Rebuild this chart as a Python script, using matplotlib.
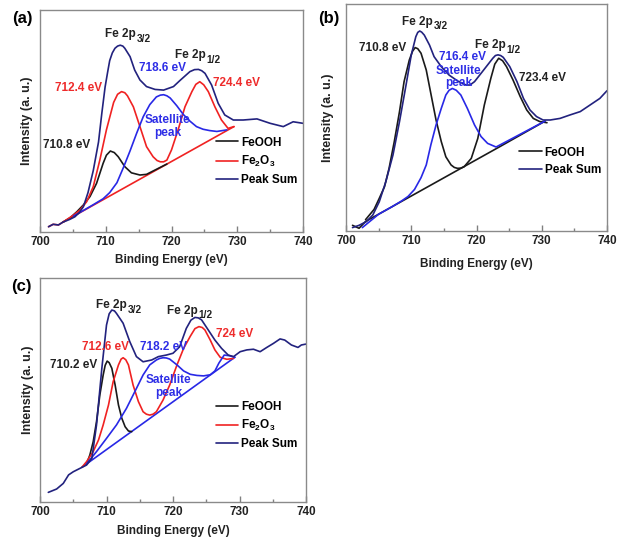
import matplotlib
matplotlib.use("Agg")
import matplotlib.pyplot as plt

plt.rcParams['font.family'] = ['Liberation Sans', 'DejaVu Sans']
plt.rcParams['font.weight'] = 'bold'
plt.rcParams['axes.labelweight'] = 'bold'
plt.rcParams['mathtext.fontset'] = 'custom'
plt.rcParams['mathtext.rm'] = 'Liberation Sans:bold'
plt.rcParams['mathtext.bf'] = 'Liberation Sans:bold'
plt.rcParams['mathtext.it'] = 'Liberation Sans:bold'
plt.rcParams['mathtext.default'] = 'bf'

# ---------------- data ----------------
xticks = [700, 710, 720, 730, 740]
xminor = [705, 715, 725, 735]

# panel (a)
a_base_x = [701.3, 702.0, 702.8, 703.5, 729.5]
a_base_y = [1.5, 2.6, 2.3, 3.6, 47.0]
a_sum_x = [701.3, 702.0, 702.8, 703.5, 704.5, 705.3, 706.0, 706.6, 707.3, 708.1, 708.9,
           709.4, 709.9, 710.3, 710.6, 711.0, 711.4, 711.8, 712.2, 712.6, 712.9, 713.7,
           714.4, 715.2, 716.2, 717.5, 718.8, 720.3, 721.3, 722.8, 723.5, 724.1, 724.6,
           725.1, 726.1, 727.1, 728.1, 729.4, 730.9, 733.0, 735.0, 737.0, 738.5, 740.0]
a_sum_y = [1.5, 2.6, 2.3, 3.6, 4.8, 6.0, 8.0, 10.6, 17.0, 27.0, 40.0,
           53.0, 65.0, 72.0, 77.0, 80.5, 82.6, 83.6, 84.0, 83.6, 82.6, 78.8,
           72.7, 68.2, 65.2, 63.9, 63.6, 65.2, 68.0, 72.0, 72.9, 73.0, 72.4,
           71.2, 65.9, 57.6, 52.3, 50.0, 50.0, 50.5, 48.5, 47.0, 49.2, 48.5]
a_feooh_x = [703.5, 704.6, 705.6, 706.6, 707.6, 708.6, 709.6, 710.1, 710.7, 711.3, 711.9,
             712.9, 713.9, 715.2, 716.2, 719.3]
a_feooh_y = [3.6, 5.6, 8.3, 11.4, 15.2, 21.2, 30.3, 34.0, 35.9, 35.2, 33.3,
             28.8, 26.0, 25.0, 25.3, 30.0]
a_fe2o3_x = [703.5, 705.1, 706.1, 707.1, 708.1, 709.1, 710.1, 711.2, 711.8, 712.4, 712.9,
             713.3, 714.2, 715.2, 716.2, 717.2, 717.8, 718.3, 718.8, 719.3, 720.0, 721.0,
             722.05, 723.1, 723.7, 724.3, 724.9, 725.6, 726.6, 727.6, 728.6, 729.5]
a_fe2o3_y = [3.6, 6.8, 9.1, 12.9, 19.7, 31.8, 45.5, 58.0, 61.7, 62.9, 62.4,
             61.0, 56.0, 47.0, 37.9, 33.3, 31.6, 31.0, 31.0, 31.8, 36.4, 45.5,
             56.0, 62.9, 66.2, 67.4, 66.0, 62.9, 56.0, 50.0, 46.2, 47.0]
a_sat_x = [705.1, 706.6, 708.1, 709.6, 710.6, 711.7, 712.7, 713.7, 714.7, 715.7, 716.7,
           717.7, 718.3, 718.8, 719.3, 719.8, 720.8, 721.8, 722.8, 723.8, 724.8, 725.8,
           726.9, 728.4]
a_sat_y = [6.3, 8.9, 11.5, 14.2, 17.0, 21.5, 28.5, 36.0, 44.0, 51.5, 57.0,
           60.5, 61.3, 61.5, 61.0, 60.0, 56.5, 52.5, 49.5, 47.0, 45.8, 45.2,
           44.8, 45.5]

# panel (b)
b_base_x = [701.0, 702.0, 703.0, 723.6, 730.5]
b_base_y = [2.5, 1.2, 4.2, 37.2, 48.4]
b_sum_x = [701.0, 702.0, 703.1, 704.1, 705.1, 706.1, 707.2, 708.2, 709.2, 710.0, 710.7,
           711.0, 711.3, 711.6, 712.0, 712.8, 713.5, 714.6, 715.8, 717.1, 718.4, 719.0,
           719.7, 720.9, 722.5, 722.9, 723.3, 723.7, 724.1, 725.1, 726.2, 727.2, 728.2,
           729.2, 730.2, 731.3, 732.8, 734.3, 735.9, 737.4, 738.9, 740.0]
b_sum_y = [1.5, 2.5, 4.1, 7.0, 12.9, 21.7, 33.5, 48.2, 64.3, 77.5, 85.6,
           87.5, 88.1, 87.6, 86.3, 81.9, 76.8, 72.4, 68.7, 66.1, 64.3, 64.3,
           65.8, 70.2, 76.1, 77.3, 77.6, 77.3, 76.5, 72.4, 65.8, 58.4, 53.3,
           50.4, 48.9, 48.9, 49.6, 51.1, 52.6, 55.5, 58.4, 61.8]
b_feooh_x = [703.0, 704.3, 705.1, 705.9, 706.6, 707.4, 708.2, 708.9, 709.7, 710.2, 710.6,
             711.0, 711.5, 712.3, 713.0, 713.8, 714.6, 715.3, 716.1, 716.6, 717.1, 717.6,
             718.1, 719.2, 720.2, 721.2, 722.2, 722.8, 723.4, 724.0, 724.6, 725.6, 726.7,
             727.7, 728.7, 729.7, 730.8]
b_feooh_y = [5.0, 9.5, 14.4, 19.5, 27.6, 39.4, 52.6, 65.8, 75.3, 79.2, 80.8,
             80.3, 78.3, 70.9, 60.6, 48.9, 39.4, 32.7, 29.1, 28.0, 27.6, 27.7,
             28.3, 32.0, 40.8, 55.5, 67.3, 73.5, 76.1, 75.0, 72.4, 66.5, 59.2,
             53.3, 49.6, 48.2, 47.7]
b_sat_x = [702.5, 705.0, 707.0, 708.5, 709.5, 710.5, 711.5, 712.3, 713.0, 713.8, 714.6,
           715.3, 715.8, 716.3, 716.9, 717.6, 718.6, 719.7, 720.7, 721.7, 723.0, 730.5]
b_sat_y = [1.5, 7.4, 10.6, 13.2, 15.2, 18.3, 23.5, 29.1, 37.9, 46.7, 54.0,
           59.9, 62.0, 62.8, 62.0, 59.9, 54.0, 46.7, 41.6, 38.6, 37.0, 48.4]

# panel (c)
c_base_x = [706.3, 729.3]
c_base_y = [15.5, 64.6]
c_sum_x = [701.25, 702.5, 703.5, 704.3, 705.0, 706.0, 707.0, 707.8, 708.5, 709.3, 710.0,
           710.4, 710.8, 711.2, 711.5, 712.5, 713.5, 714.5, 715.5, 716.8, 717.8, 719.0,
           720.0, 721.0, 722.0, 722.7, 723.3, 723.8, 724.3, 725.3, 726.3, 727.3, 728.3,
           729.1, 730.1, 731.1, 732.1, 733.1, 734.1, 735.1, 736.1, 736.8, 737.8, 738.8,
           739.3, 740.0]
c_sum_y = [4.3, 5.8, 8.3, 12.1, 13.5, 15.0, 16.5, 19.5, 34.4, 59.7, 79.0,
           84.0, 85.7, 85.3, 84.2, 79.8, 71.6, 64.9, 62.6, 63.4, 64.9, 65.6,
           66.4, 69.3, 77.5, 81.2, 82.4, 82.2, 81.3, 76.8, 72.3, 68.6, 65.6,
           64.9, 67.1, 67.9, 68.2, 67.1, 69.0, 70.8, 72.8, 72.3, 70.1, 69.0,
           70.1, 70.5]
c_feooh_x = [707.0, 707.5, 708.0, 708.5, 709.0, 709.5, 709.8, 710.1, 710.4, 710.8, 711.3,
             711.8, 712.3, 712.8, 713.3, 713.8]
c_feooh_y = [17.0, 21.0, 26.9, 35.9, 47.8, 56.7, 61.0, 62.9, 62.2, 59.7, 52.2,
             43.3, 37.4, 33.6, 31.7, 31.4]
c_fe2o3_x = [706.3, 707.0, 708.0, 708.8, 709.5, 710.3, 711.0, 711.8, 712.2, 712.5, 712.9,
             713.3, 714.0, 714.8, 715.5, 716.0, 716.5, 717.0, 717.5, 718.5, 719.5, 720.6,
             721.6, 722.6, 723.3, 723.9, 724.4, 724.8, 725.6, 726.3, 727.1, 728.1, 729.1]
c_fe2o3_y = [15.5, 18.0, 22.5, 27.7, 34.4, 43.3, 53.7, 61.2, 63.8, 64.4, 63.5,
             61.2, 52.2, 44.8, 40.3, 39.2, 38.8, 39.2, 40.3, 45.5, 52.2, 61.2,
             68.6, 74.0, 77.4, 78.3, 77.9, 76.8, 72.3, 67.9, 64.6, 63.7, 64.1]
c_sat_x = [707.0, 708.5, 710.0, 711.5, 713.0, 714.5, 715.5, 716.5, 717.5, 718.0, 718.5,
           719.0, 719.5, 720.6, 721.6, 722.6, 723.6, 724.6, 725.6, 726.3, 726.9, 727.7,
           728.5, 729.3]
c_sat_y = [17.0, 22.5, 28.4, 34.4, 41.8, 50.7, 56.7, 61.2, 63.4, 64.1, 64.4,
           64.3, 63.8, 61.2, 58.5, 57.0, 56.5, 56.3, 56.8, 58.5, 62.0, 65.6,
           65.3, 64.6]

# ---------------- styles ----------------
C_BLACK = '#1a1a1a'
C_RED = '#f02222'
C_BLUE = '#2828e6'
C_NAVY = '#22227e'
T_DARK = '#222222'
T_RED = '#ee2b2b'
T_BLUE = '#2e2ee6'
LW = 1.2
FS = 8.5
LINE_KW = dict(lw=LW, solid_joinstyle='round', solid_capstyle='round')

fig = plt.figure(figsize=(6.17, 5.44), dpi=100)


def setup(ax, ylim, xlabelpad, ylabelpad):
    ax.set_xlim(700, 740)
    ax.set_ylim(*ylim)
    ax.set_xticks(xticks)
    ax.set_xticks(xminor, minor=True)
    ax.set_yticks([])
    ax.tick_params(axis='x', which='major', direction='in', length=4, width=1,
                   color='#808080', pad=3, labelsize=FS, labelcolor=T_DARK)
    ax.tick_params(axis='x', which='minor', direction='in', length=2.5, width=1,
                   color='#808080')
    for lab in ax.get_xticklabels():
        lab.set_fontweight('bold')
    for s in ax.spines.values():
        s.set_color('#8a8a8a')
        s.set_linewidth(1.0)
    ax.set_xlabel('Binding Energy (eV)', fontsize=FS, labelpad=xlabelpad, color=T_DARK)
    ax.set_ylabel('Intensity (a. u.)', fontsize=9, labelpad=ylabelpad, color=T_DARK)


def fe_label(ax, x, y, sub):
    # "Fe 2p" with a larger, lowered subscript, centred as a whole on (x, y)
    ax.annotate('Fe 2p', (x, y), xytext=(6.3, 0), textcoords='offset points',
                ha='right', va='center', fontsize=FS, color=T_DARK)
    ax.annotate(sub, (x, y), xytext=(6.6, -3.4), textcoords='offset points',
                ha='left', va='center', fontsize=7.3, color=T_DARK)


def legend(ax, handles, anchor):
    ax.legend(handles=handles, loc='upper left', bbox_to_anchor=anchor,
              frameon=False, fontsize=FS, handlelength=1.9, handletextpad=0.25,
              labelspacing=0.45, borderpad=0, borderaxespad=0)


# ----- (a) -----
axa = fig.add_axes([40/617, 1-232/544, 263/617, 222/544])
setup(axa, (-0.9, 100), 4, 5)
axa.plot(a_base_x, a_base_y, color=C_RED, **LINE_KW)
la1, = axa.plot(a_feooh_x, a_feooh_y, color=C_BLACK, label='FeOOH', **LINE_KW)
la2, = axa.plot(a_fe2o3_x, a_fe2o3_y, color=C_RED, label='Fe$_2$O$_3$', **LINE_KW)
axa.plot(a_sat_x, a_sat_y, color=C_BLUE, **LINE_KW)
la3, = axa.plot(a_sum_x, a_sum_y, color=C_NAVY, label='Peak Sum', **LINE_KW)
fe_label(axa, 713.3, 89.1, '3/2')
fe_label(axa, 723.9, 79.5, '1/2')
axa.text(718.6, 73.5, '718.6 eV', ha='center', va='center', fontsize=FS, color=T_BLUE)
axa.text(705.9, 64.4, '712.4 eV', ha='center', va='center', fontsize=FS, color=T_RED)
axa.text(729.9, 67.0, '724.4 eV', ha='center', va='center', fontsize=FS, color=T_RED)
axa.text(719.4, 47.0, 'Satellite\npeak', ha='center', va='center', fontsize=FS,
         color=T_BLUE, linespacing=1.1)
axa.text(704.05, 38.6, '710.8 eV', ha='center', va='center', fontsize=FS, color=T_DARK)
legend(axa, [la1, la2, la3], (0.668, 0.43))
fig.text(22/617, 1-18/544, '(a)', ha='center', va='center', fontsize=12, fontweight='bold')

# ----- (b) -----
axb = fig.add_axes([346/617, 1-231/544, 261/617, 227/544])
setup(axb, (0, 100), 8, 9)
axb.plot(b_base_x, b_base_y, color=C_BLACK, **LINE_KW)
lb1, = axb.plot(b_feooh_x, b_feooh_y, color=C_BLACK, label='FeOOH', **LINE_KW)
axb.plot(b_sat_x, b_sat_y, color=C_BLUE, **LINE_KW)
lb2, = axb.plot(b_sum_x, b_sum_y, color=C_NAVY, label='Peak Sum', **LINE_KW)
fe_label(axb, 712.0, 92.2, '3/2')
fe_label(axb, 723.2, 81.9, '1/2')
axb.text(705.6, 80.7, '710.8 eV', ha='center', va='center', fontsize=FS, color=T_DARK)
axb.text(717.8, 76.8, '716.4 eV', ha='center', va='center', fontsize=FS, color=T_BLUE)
axb.text(717.3, 67.9, 'Satellite\npeak', ha='center', va='center', fontsize=FS,
         color=T_BLUE, linespacing=1.0)
axb.text(730.1, 67.3, '723.4 eV', ha='center', va='center', fontsize=FS, color=T_DARK)
legend(axb, [lb1, lb2], (0.664, 0.372))
fig.text(329/617, 1-19/544, '(b)', ha='center', va='center', fontsize=12, fontweight='bold')

# ----- (c) -----
axc = fig.add_axes([40/617, 1-502/544, 266/617, 224/544])
setup(axc, (0, 100), 5, 4)
axc.plot(c_base_x, c_base_y, color=C_BLUE, **LINE_KW)
lc1, = axc.plot(c_feooh_x, c_feooh_y, color=C_BLACK, label='FeOOH', **LINE_KW)
lc2, = axc.plot(c_fe2o3_x, c_fe2o3_y, color=C_RED, label='Fe$_2$O$_3$', **LINE_KW)
axc.plot(c_sat_x, c_sat_y, color=C_BLUE, **LINE_KW)
lc3, = axc.plot(c_sum_x, c_sum_y, color=C_NAVY, label='Peak Sum', **LINE_KW)
fe_label(axc, 711.8, 87.9, '3/2')
fe_label(axc, 722.4, 85.4, '1/2')
axc.text(709.8, 69.3, '712.6 eV', ha='center', va='center', fontsize=FS, color=T_RED)
axc.text(718.6, 69.3, '718.2 eV', ha='center', va='center', fontsize=FS, color=T_BLUE)
axc.text(729.2, 75.0, '724 eV', ha='center', va='center', fontsize=FS, color=T_RED)
axc.text(705.0, 61.2, '710.2 eV', ha='center', va='center', fontsize=FS, color=T_DARK)
axc.text(719.3, 51.5, 'Satellite\npeak', ha='center', va='center', fontsize=FS,
         color=T_BLUE, linespacing=1.1)
legend(axc, [lc1, lc2, lc3], (0.66, 0.452))
fig.text(21/617, 1-286/544, '(c)', ha='center', va='center', fontsize=12, fontweight='bold')

fig.savefig('out.png', dpi=100)
